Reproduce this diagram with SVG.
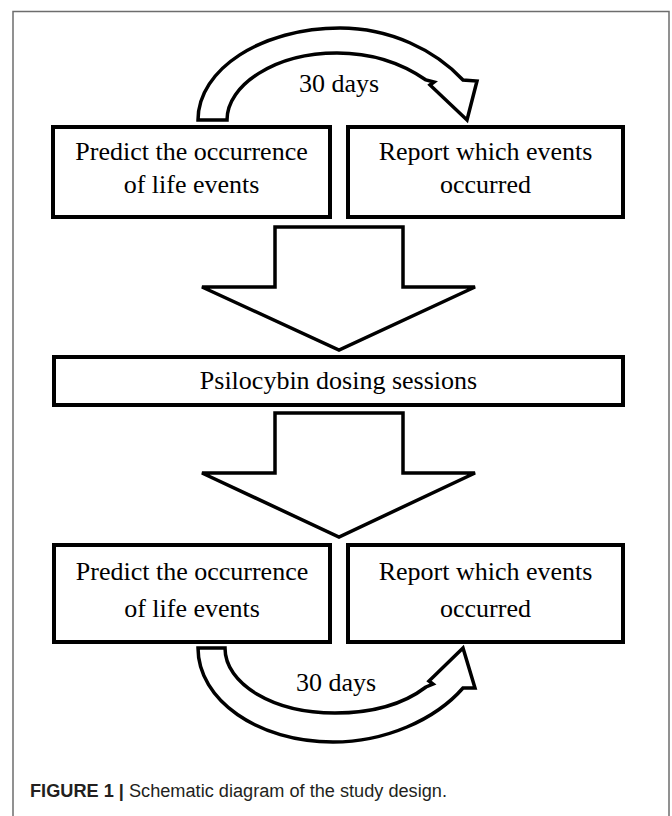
<svg xmlns="http://www.w3.org/2000/svg" width="672" height="816" viewBox="0 0 672 816">
<style>
.box{fill:#fff;stroke:#000;stroke-width:4}
.arr{fill:#fff;stroke:#000;stroke-width:3.5;stroke-linejoin:miter}
.t{font-family:"Liberation Serif","Times New Roman",serif;font-size:26px;fill:#000;text-anchor:middle}
.cap{font-family:"Liberation Sans",Arial,sans-serif;font-size:18px;fill:#231f20}
</style>
<rect x="13" y="11.5" width="656" height="810" fill="#fff" stroke="#6d6d6d" stroke-width="1.5"/>
<g id="connectors">
<path class="arr" d="M198,120 C198,69 262,28 340,28 C390,28 435,50 463,80 L477,81 L467,120 L430,85 L434,82 L426,80 C400,62 370,53 337,53 C275,53 227,85 227,120 Z"/>
<path class="arr" d="M275,227 L403,227 L403,287 L475,287 L339,350 L202,287 L275,287 Z"/>
<path class="arr" d="M275,413 L403,413 L403,473 L475,473 L339,537 L202,473 L275,473 Z"/>
<path class="arr" d="M198,648 L225,648 C225,684 273,713 335,713 C375,713 405,703 426,687 L433,684 L429,681 L463,648 L475,688 L463,688 C435,720 385,742 333,742 C258,742 198,700 198,648 Z"/>
</g>
<g id="n1">
<rect class="box" x="53" y="127" width="277" height="90"/>
<text class="t" x="191.5" y="160">Predict the occurrence</text>
<text class="t" x="191.5" y="193">of life events</text>
</g>
<g id="n2">
<rect class="box" x="348" y="127" width="275" height="90"/>
<text class="t" x="485.5" y="160">Report which events</text>
<text class="t" x="485.5" y="193">occurred</text>
</g>
<g id="n3">
<rect class="box" x="54" y="357" width="569" height="48"/>
<text class="t" x="338.5" y="389">Psilocybin dosing sessions</text>
</g>
<g id="n4">
<rect class="box" x="54" y="545" width="276" height="97"/>
<text class="t" x="192" y="580">Predict the occurrence</text>
<text class="t" x="192" y="617">of life events</text>
</g>
<g id="n5">
<rect class="box" x="348" y="545" width="275" height="97"/>
<text class="t" x="485.5" y="580">Report which events</text>
<text class="t" x="485.5" y="617">occurred</text>
</g>
<g id="labels">
<text class="t" x="339" y="92">30 days</text>
<text class="t" x="336" y="691">30 days</text>
</g>
<text class="cap" x="30" y="797" textLength="417" lengthAdjust="spacingAndGlyphs"><tspan font-weight="bold">FIGURE 1 |</tspan> Schematic diagram of the study design.</text>
</svg>
